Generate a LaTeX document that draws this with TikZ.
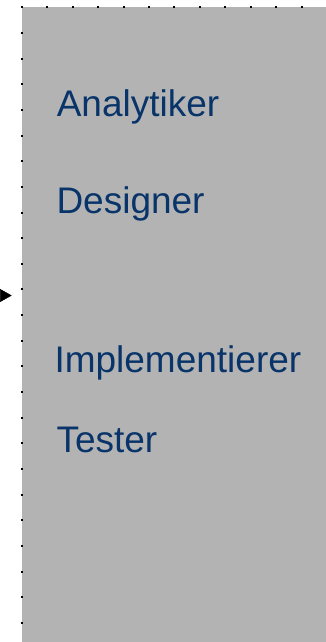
\documentclass[tikz,border=0pt]{standalone}
\usepackage{fontspec}
\setmainfont{Liberation Sans}
\usetikzlibrary{arrows.meta}
\definecolor{panelgrey}{RGB}{179,179,179}
\definecolor{rolblue}{RGB}{8,52,105}
\begin{document}
\begin{tikzpicture}[x=1pt,y=-1pt,
  role/.style={anchor=base west,inner sep=0pt,outer sep=0pt,text=rolblue,font=\fontsize{37}{44}\selectfont},
  dotsq/.style={fill=black},
  arr/.style={line width=0.5pt,-{Triangle[length=11.7pt,width=13pt]}}]
\useasboundingbox (0,0) rectangle (326,642);
\fill[panelgrey] (21.7,7.3) rectangle (326,642);
\foreach \k in {0,...,11} {
  \fill[dotsq] ({21.7+25.45*\k-1},6.3) rectangle ++(2,2);
}
\foreach \k in {1,...,24} {
  \fill[dotsq] (20.7,{7.3+25.65*\k-1}) rectangle ++(2,2);
}
\node[role] (ana) at (56.8,116.7) {Analytiker};
\node[role] (des) at (56.5,213.3) {Designer};
\node[role] (imp) at (54.5,372.7) {Implementierer};
\node[role] (tes) at (56.5,452.7) {Tester};
\coordinate (as) at (-3,295.5);
\coordinate (ae) at (11.7,295.5);
\draw[arr] (as) -- (ae);
\end{tikzpicture}
\end{document}
